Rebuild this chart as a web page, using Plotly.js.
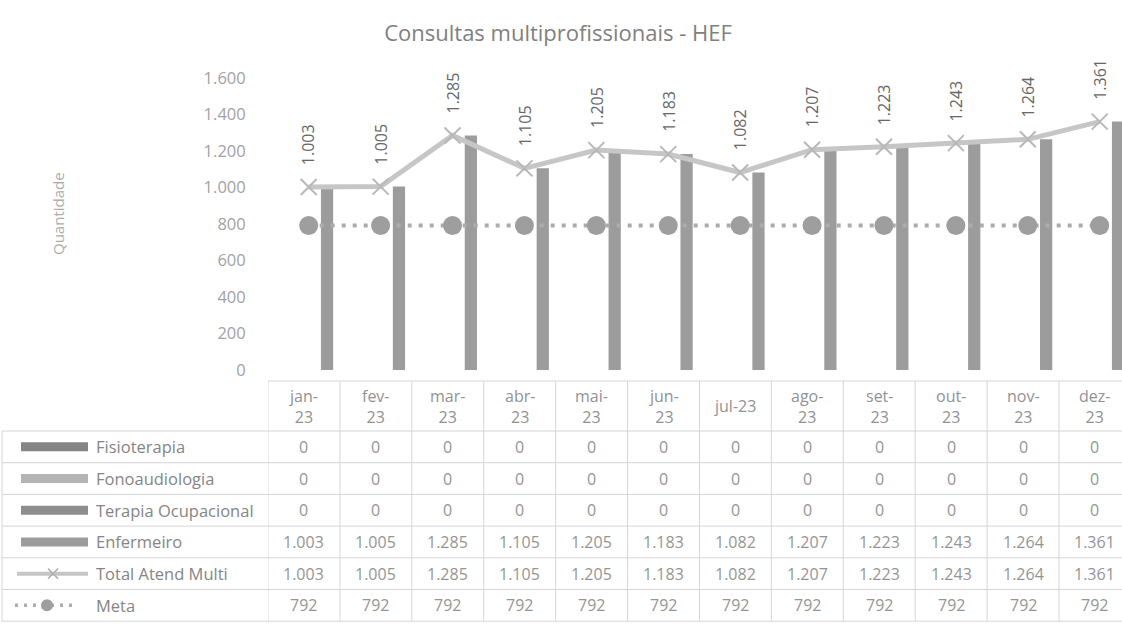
<!DOCTYPE html>
<html>
<head>
<meta charset="utf-8">
<script src="https://cdn.plot.ly/plotly-3.0.1.min.js"></script>
<style>
  html, body { margin: 0; padding: 0; background: #ffffff; }
  #chart { width: 1122px; height: 632px; }
</style>
</head>
<body>
<div id="chart"></div>
<script>
// ---------- DATA ----------
const months = ['jan-23','fev-23','mar-23','abr-23','mai-23','jun-23','jul-23','ago-23','set-23','out-23','nov-23','dez-23'];
const headerLabels = ['jan-<br>23','fev-<br>23','mar-<br>23','abr-<br>23','mai-<br>23','jun-<br>23','jul-23','ago-<br>23','set-<br>23','out-<br>23','nov-<br>23','dez-<br>23'];
const fisioterapia       = [0,0,0,0,0,0,0,0,0,0,0,0];
const fonoaudiologia     = [0,0,0,0,0,0,0,0,0,0,0,0];
const terapiaOcupacional = [0,0,0,0,0,0,0,0,0,0,0,0];
const enfermeiro         = [1003,1005,1285,1105,1205,1183,1082,1207,1223,1243,1264,1361];
const totalAtendMulti    = [1003,1005,1285,1105,1205,1183,1082,1207,1223,1243,1264,1361];
const meta               = [792,792,792,792,792,792,792,792,792,792,792,792];
const seriesNames = ['Fisioterapia','Fonoaudiologia','Terapia Ocupacional','Enfermeiro','Total Atend Multi','Meta'];
const yTicks = [0,200,400,600,800,1000,1200,1400,1600];

// ---------- STYLE ----------
const FONT = '"Open Sans", Lato, sans-serif';
const barColors = ['#858585','#b4b4b4','#8e8e8e','#9c9c9c'];
const totalColor = '#c6c6c6';
const metaColor = '#9e9e9e';
const gridColor = '#d6d6d6';

// page geometry (pixels)
const W = 1122, H = 632;
const PL = 268, PR = 1122, PT = 78, PB = 370;
const TABLE_TOP = 381, HEADER_BOTTOM = 431, ROW_H = 31.7, LEG_LEFT = 2;
const TSHIFT = -0.066;           // table columns vs category centre
const px = p => (p - PL) / (PR - PL);
const py = p => (PB - p) / (PB - PT);
const fmt = v => String(v).replace(/\B(?=(\d{3})+(?!\d))/g, '.');

// ---------- TRACES ----------
const barSeries = [fisioterapia, fonoaudiologia, terapiaOcupacional, enfermeiro];
const traces = barSeries.map((vals, k) => ({
  type: 'bar', name: seriesNames[k], x: months, y: vals,
  marker: { color: barColors[k] }, showlegend: false, hoverinfo: 'skip'
}));
traces.push({
  type: 'scatter', mode: 'lines', name: seriesNames[5], x: months, y: meta,
  line: { color: '#acacac', width: 4, dash: '4px,7px' }, showlegend: false, hoverinfo: 'skip'
});
traces.push({
  type: 'scatter', mode: 'markers', name: seriesNames[5] + ' ', x: months, y: meta,
  marker: { symbol: 'circle', size: 19, color: metaColor }, showlegend: false, hoverinfo: 'skip'
});
traces.push({
  type: 'scatter', mode: 'lines+markers', name: seriesNames[4], x: months, y: totalAtendMulti,
  line: { color: totalColor, width: 5 },
  marker: { symbol: 'x-thin', size: 16, line: { width: 2, color: '#b8b8b8' } },
  showlegend: false, hoverinfo: 'skip'
});

// ---------- ANNOTATIONS ----------
const annotations = [];
// y-axis title
annotations.push({
  x: px(58), y: py(214), xref: 'paper', yref: 'paper', text: 'Quantidade', textangle: -90,
  showarrow: false, xanchor: 'center', yanchor: 'middle',
  font: { family: FONT, size: 15, color: '#ababab' }
});
// rotated data labels on total line
totalAtendMulti.forEach((v, i) => {
  annotations.push({
    x: i, y: v, xref: 'x', yref: 'y', text: fmt(v), textangle: -90,
    showarrow: false, yanchor: 'bottom', xanchor: 'center', yshift: 20,
    font: { family: FONT, size: 16, color: '#666666' }
  });
});
// table header
headerLabels.forEach((t, i) => {
  annotations.push({
    x: i + TSHIFT, y: py((TABLE_TOP + HEADER_BOTTOM) / 2), xref: 'x', yref: 'paper',
    text: t, showarrow: false, xanchor: 'center', yanchor: 'middle',
    font: { family: FONT, size: 16, color: '#929292' }
  });
});
// table rows
const tableRows = [fisioterapia, fonoaudiologia, terapiaOcupacional, enfermeiro, totalAtendMulti, meta];
tableRows.forEach((vals, r) => {
  const yc = HEADER_BOTTOM + ROW_H * r + ROW_H / 2;
  annotations.push({
    x: px(94), y: py(yc), xref: 'paper', yref: 'paper', text: seriesNames[r],
    showarrow: false, xanchor: 'left', yanchor: 'middle',
    font: { family: FONT, size: 16.5, color: '#858585' }
  });
  vals.forEach((v, i) => {
    annotations.push({
      x: i + TSHIFT, y: py(yc), xref: 'x', yref: 'paper', text: fmt(v),
      showarrow: false, xanchor: 'center', yanchor: 'middle',
      font: { family: FONT, size: 16, color: '#959595' }
    });
  });
});

// ---------- SHAPES (table grid + legend keys) ----------
const shapes = [];
const gl = { color: gridColor, width: 1 };
const tableBottom = HEADER_BOTTOM + ROW_H * tableRows.length;
shapes.push({ type: 'line', xref: 'paper', yref: 'paper', x0: 0, x1: 1, y0: py(TABLE_TOP), y1: py(TABLE_TOP), line: gl });
for (let r = 0; r <= tableRows.length; r++) {
  const y = py(HEADER_BOTTOM + ROW_H * r);
  shapes.push({ type: 'line', xref: 'paper', yref: 'paper', x0: px(LEG_LEFT), x1: 1, y0: y, y1: y, line: gl });
}
shapes.push({ type: 'line', xref: 'paper', yref: 'paper', x0: px(LEG_LEFT), x1: px(LEG_LEFT),
  y0: py(HEADER_BOTTOM), y1: py(tableBottom), line: gl });
for (let k = 0; k <= months.length; k++) {
  shapes.push({ type: 'line', xref: 'x', yref: 'paper', x0: k - 0.5 + TSHIFT, x1: k - 0.5 + TSHIFT,
    y0: py(TABLE_TOP), y1: py(tableBottom), line: gl });
}
// legend keys
for (let r = 0; r < 4; r++) {
  const yc = HEADER_BOTTOM + ROW_H * r + ROW_H / 2;
  shapes.push({ type: 'rect', xref: 'paper', yref: 'paper', x0: px(21), x1: px(88),
    y0: py(yc - 4.5), y1: py(yc + 4.5), fillcolor: barColors[r], line: { width: 0 } });
}
{
  const yc = HEADER_BOTTOM + ROW_H * 4 + ROW_H / 2;
  shapes.push({ type: 'line', xref: 'paper', yref: 'paper', x0: px(17), x1: px(88), y0: py(yc), y1: py(yc),
    line: { color: totalColor, width: 4 } });
  shapes.push({ type: 'line', xref: 'paper', yref: 'paper', x0: px(48), x1: px(58), y0: py(yc - 5), y1: py(yc + 5),
    line: { color: '#b0b0b0', width: 1.5 } });
  shapes.push({ type: 'line', xref: 'paper', yref: 'paper', x0: px(48), x1: px(58), y0: py(yc + 5), y1: py(yc - 5),
    line: { color: '#b0b0b0', width: 1.5 } });
}
{
  const yc = HEADER_BOTTOM + ROW_H * 5 + ROW_H / 2;
  shapes.push({ type: 'line', xref: 'paper', yref: 'paper', x0: px(15), x1: px(75), y0: py(yc), y1: py(yc),
    line: { color: '#acacac', width: 3.5, dash: '3px,6px' } });
  shapes.push({ type: 'circle', xref: 'paper', yref: 'paper', x0: px(41), x1: px(53), y0: py(yc - 6), y1: py(yc + 6),
    fillcolor: metaColor, line: { width: 0 } });
}

// ---------- LAYOUT ----------
const layout = {
  width: W, height: H,
  margin: { l: PL, r: W - PR, t: PT, b: H - PB, pad: 0 },
  paper_bgcolor: '#ffffff', plot_bgcolor: '#ffffff',
  separators: ',.',
  font: { family: FONT, color: '#8a8a8a' },
  title: {
    text: 'Consultas multiprofissionais - HEF',
    font: { family: FONT, size: 22, color: '#808080' },
    x: 558 / W, xref: 'container', xanchor: 'center',
    y: 1 - 33 / H, yref: 'container', yanchor: 'middle'
  },
  barmode: 'group', bargap: 0.32, bargroupgap: 0,
  showlegend: false,
  xaxis: {
    type: 'category', range: [-0.5 + TSHIFT, 11.31], showticklabels: false,
    showgrid: false, zeroline: false, showline: false, ticks: ''
  },
  yaxis: {
    range: [0, 1600], tickvals: yTicks, tickformat: ',d',
    showgrid: false, zeroline: false, showline: false,
    ticks: 'outside', ticklen: 18, tickcolor: 'rgba(0,0,0,0)',
    tickfont: { family: FONT, size: 16.5, color: '#a2a2a2' }
  },
  annotations: annotations,
  shapes: shapes
};

Plotly.newPlot('chart', traces, layout, { displayModeBar: false, staticPlot: true });
</script>
</body>
</html>
